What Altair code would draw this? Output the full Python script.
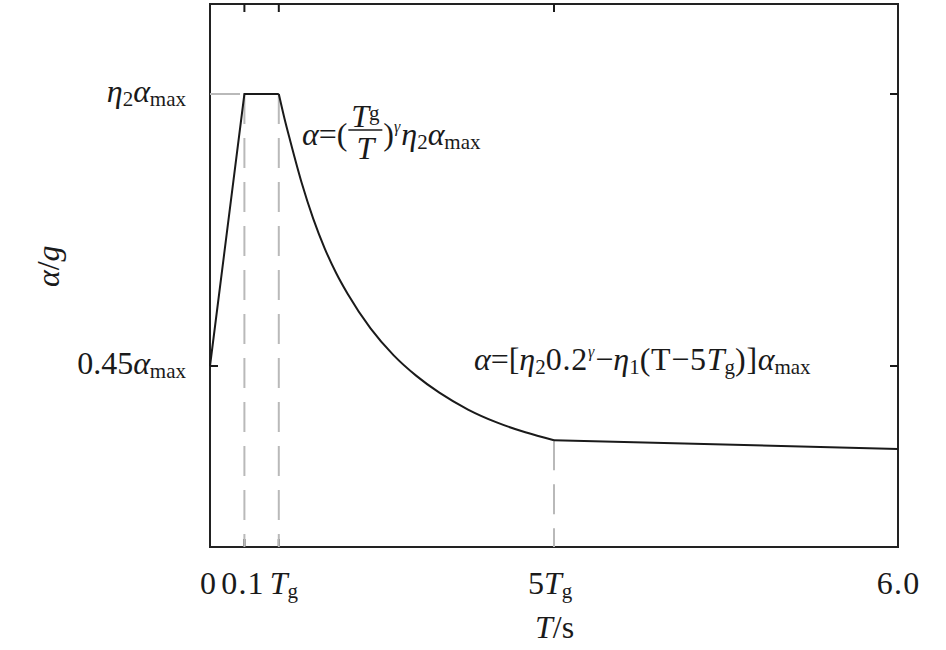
import altair as alt
import pandas as pd

# ---------------- data ----------------
T_rise = [0.0, 0.3, 0.6]
A_rise = [0.45, 1.0, 1.0]
T_decay = [0.6, 0.65, 0.7, 0.8, 0.9, 1.0, 1.1, 1.2, 1.4, 1.6, 1.8, 2.0, 2.25, 2.5, 2.75, 3.0]
A_decay = [1.0, 0.950, 0.905, 0.820, 0.748, 0.688, 0.638, 0.596, 0.526, 0.472, 0.430, 0.396,
           0.362, 0.336, 0.316, 0.300]
T_tail = [3.0, 6.0]
A_tail = [0.300, 0.282]

guide_T = [0.3, 0.6, 3.0]
guide_top = [1.0, 1.0, 0.300]
hguide_T = [0.0, 0.3]
hguide_A = [1.0]

x_tick_vals = [0.0, 0.3, 0.6, 3.0, 6.0]
y_tick_vals = [1.0, 0.45]

X_DOMAIN = [0.0, 6.0]
Y_DOMAIN = [0.084, 1.182]

# ---------------- styling ----------------
W, H = 688, 543
PAD_L, PAD_T = 210, 4
FONT = "Liberation Serif"
F, S, P = 32, 21, 16
INK = "#1a1a1a"
GRAY = "#b9b9b9"

xs = alt.Scale(domain=X_DOMAIN, nice=False, zero=False)
ys = alt.Scale(domain=Y_DOMAIN, nice=False, zero=False)
X = alt.X("t:Q", scale=xs, axis=None)
Y = alt.Y("a:Q", scale=ys, axis=None)

REG = {c: 0.5 for c in "0123456789"}
REG.update({".": 0.25, "=": 0.564, "(": 0.333, ")": 0.333, "[": 0.333, "]": 0.333,
            "\u2212": 0.564, "T": 0.611, "m": 0.778, "a": 0.444, "x": 0.5, "g": 0.5,
            "s": 0.389, "/": 0.278, " ": 0.25})
ITA = {"T": 0.556, "g": 0.5, "\u03b1": 0.52, "\u03b7": 0.5, "\u03b3": 0.45, "s": 0.389}

STYLES = {
    "r": (F, "normal", 0),
    "i": (F, "italic", 0),
    "s": (S, "normal", 4),
    "si": (S, "italic", 4),
    "p": (P, "italic", -13),
    "pn": (S, "normal", -7),
}


def seg_width(text, style):
    size, fs, _ = STYLES[style]
    tbl = ITA if fs == "italic" else REG
    return sum(tbl.get(c, REG.get(c, 0.5)) for c in text) * size


def expand(segs, track):
    if not track:
        return [(t, s, 0.0) for t, s in segs]
    out = []
    for t, s in segs:
        if s == "r" and len(t) > 1:
            for c in t:
                out.append((c, s, track))
        else:
            out.append((t, s, 0.0))
    return out


def rich(segs, base, dx0=0.0, dy0=0.0, align="left", angle=None, track=0.0):
    items = expand(segs, track)
    total = sum(seg_width(t, s) + tr for t, s, tr in items) - (items[-1][2] if items else 0)
    if align == "right":
        x = dx0 - total
    elif align == "center":
        x = dx0 - total / 2
    else:
        x = dx0
    out = []
    for t, s, tr in items:
        size, fs, shift = STYLES[s]
        kw = dict(text=t, font=FONT, fontSize=size, fontStyle=fs, align="left",
                  baseline="alphabetic", dx=x, dy=dy0 + shift, color=INK)
        if angle is not None:
            kw["angle"] = angle
        out.append(base.mark_text(**kw))
        x += seg_width(t, s) + tr
    return out


def data_anchor(t, a):
    return alt.Chart(pd.DataFrame({"t": [t], "a": [a]})).encode(x=X, y=Y)


dummy = pd.DataFrame({"k": [0]})


def pix_anchor():
    return alt.Chart(dummy).encode(x=alt.value(0), y=alt.value(0))


layers = []

# ---------------- ticks (drawn inward, mirrored) ----------------
tick_x_df = pd.DataFrame({"t": x_tick_vals[1:4]})
layers.append(alt.Chart(tick_x_df).mark_rule(color=INK, strokeWidth=2).encode(
    x=X, y=alt.value(0), y2=alt.value(8)))
layers.append(alt.Chart(tick_x_df).mark_rule(color=INK, strokeWidth=2).encode(
    x=X, y=alt.value(H - 8), y2=alt.value(H)))
tick_y_df = pd.DataFrame({"a": y_tick_vals})
layers.append(alt.Chart(tick_y_df).mark_rule(color=INK, strokeWidth=2).encode(
    y=Y, x=alt.value(0), x2=alt.value(8)))
layers.append(alt.Chart(tick_y_df).mark_rule(color=INK, strokeWidth=2).encode(
    y=Y, x=alt.value(W - 8), x2=alt.value(W)))

# ---------------- dashed guides ----------------
gdf = pd.DataFrame({"t": guide_T, "top": guide_top, "bot": [Y_DOMAIN[0]] * len(guide_T)})
layers.append(alt.Chart(gdf).mark_rule(color=GRAY, strokeWidth=2, strokeDash=[30, 14]).encode(
    x=X, y=alt.Y("top:Q", scale=ys, axis=None), y2="bot:Q"))
hdf = pd.DataFrame({"t0": [hguide_T[0]], "t1": [hguide_T[1]], "a": hguide_A})
layers.append(alt.Chart(hdf).mark_rule(color=GRAY, strokeWidth=2, strokeDash=[30, 14]).encode(
    x=alt.X("t0:Q", scale=xs, axis=None), x2="t1:Q", y=Y))

# ---------------- response spectrum curve ----------------
layers.append(alt.Chart(pd.DataFrame({"t": T_rise, "a": A_rise})).mark_line(
    color=INK, strokeWidth=2).encode(x=X, y=Y))
layers.append(alt.Chart(pd.DataFrame({"t": T_decay, "a": A_decay})).mark_line(
    color=INK, strokeWidth=2, interpolate="monotone").encode(x=X, y=Y))
layers.append(alt.Chart(pd.DataFrame({"t": T_tail, "a": A_tail})).mark_line(
    color=INK, strokeWidth=2).encode(x=X, y=Y))

# ---------------- tick labels ----------------
LAB_DY = 47
layers += rich([("0", "r")], data_anchor(x_tick_vals[0], Y_DOMAIN[0]), dx0=-2, dy0=LAB_DY, align="center")
layers += rich([("0.1", "r")], data_anchor(x_tick_vals[1], Y_DOMAIN[0]), dx0=-2, dy0=LAB_DY,
               align="center", track=1.2)
layers += rich([("T", "i"), ("g", "s")], data_anchor(x_tick_vals[2], Y_DOMAIN[0]), dx0=-9, dy0=LAB_DY)
layers += rich([("5", "r"), ("T", "i"), ("g", "s")], data_anchor(x_tick_vals[3], Y_DOMAIN[0]),
               dx0=-26, dy0=LAB_DY)
layers += rich([("6.0", "r")], data_anchor(x_tick_vals[4], Y_DOMAIN[0]), dx0=0, dy0=LAB_DY,
               align="center", track=1.2)

layers += rich([("\u03b7", "i"), ("2", "s"), ("\u03b1", "i"), ("max", "s")],
               data_anchor(0.0, y_tick_vals[0]), dx0=-24, dy0=8, align="right")
layers += rich([("0.45", "r"), ("\u03b1", "i"), ("max", "s")],
               data_anchor(0.0, y_tick_vals[1]), dx0=-24, dy0=8, align="right")

# ---------------- axis titles ----------------
layers += rich([("T", "i"), ("/s", "r")], pix_anchor(), dx0=535 - PAD_L, dy0=638 - PAD_T)
yt = alt.Chart(dummy).encode(x=alt.value(59 - PAD_L), y=alt.value(287 - PAD_T))
layers += rich([("\u03b1", "i"), ("/", "r"), ("g", "i")], yt, dx0=0, dy0=0, angle=270)

# ---------------- annotation 1: alpha = (Tg/T)^gamma eta2 alpha_max ----------------
base1 = 145
x = 302
head = [("\u03b1", "i"), ("=", "r"), ("(", "r")]
layers += rich(head, pix_anchor(), dx0=x - PAD_L, dy0=base1 - PAD_T)
x += sum(seg_width(t, s) for t, s in head)
bar0 = x + 1
bar_len = 34
layers.append(alt.Chart(dummy).mark_rule(color=INK, strokeWidth=1.5).encode(
    x=alt.value(bar0 - PAD_L), x2=alt.value(bar0 + bar_len - PAD_L), y=alt.value(130 - PAD_T)))
num = [("T", "i"), ("g", "pn")]
num_w = sum(seg_width(t, s) for t, s in num)
layers += rich(num, pix_anchor(), dx0=bar0 + bar_len / 2 - num_w / 2 - PAD_L, dy0=127 - PAD_T)
layers += rich([("T", "i")], pix_anchor(), dx0=bar0 + bar_len / 2 - PAD_L, dy0=159 - PAD_T, align="center")
tail1 = [(")", "r"), ("\u03b3", "p"), ("\u03b7", "i"), ("2", "s"), ("\u03b1", "i"), ("max", "s")]
layers += rich(tail1, pix_anchor(), dx0=bar0 + bar_len + 1 - PAD_L, dy0=base1 - PAD_T)

# ---------------- annotation 2 ----------------
ann2 = [("\u03b1", "i"), ("=", "r"), ("[", "r"), ("\u03b7", "i"), ("2", "s"), ("0.2", "r"),
        ("\u03b3", "p"), ("\u2212", "r"), ("\u03b7", "i"), ("1", "s"), ("(T\u22125", "r"),
        ("T", "i"), ("g", "s"), (")]", "r"), ("\u03b1", "i"), ("max", "s")]
layers += rich(ann2, pix_anchor(), dx0=474 - PAD_L, dy0=370 - PAD_T, track=0.7)

chart = alt.layer(*layers).properties(
    width=W, height=H,
    padding={"left": PAD_L, "top": PAD_T, "right": 946 - PAD_L - W, "bottom": 650 - PAD_T - H},
    autosize=alt.AutoSizeParams(type="none"),
    background="white",
).configure_view(stroke="#222222", strokeWidth=2)

chart.save("out.html", embed_options={"renderer": "svg", "actions": False})
